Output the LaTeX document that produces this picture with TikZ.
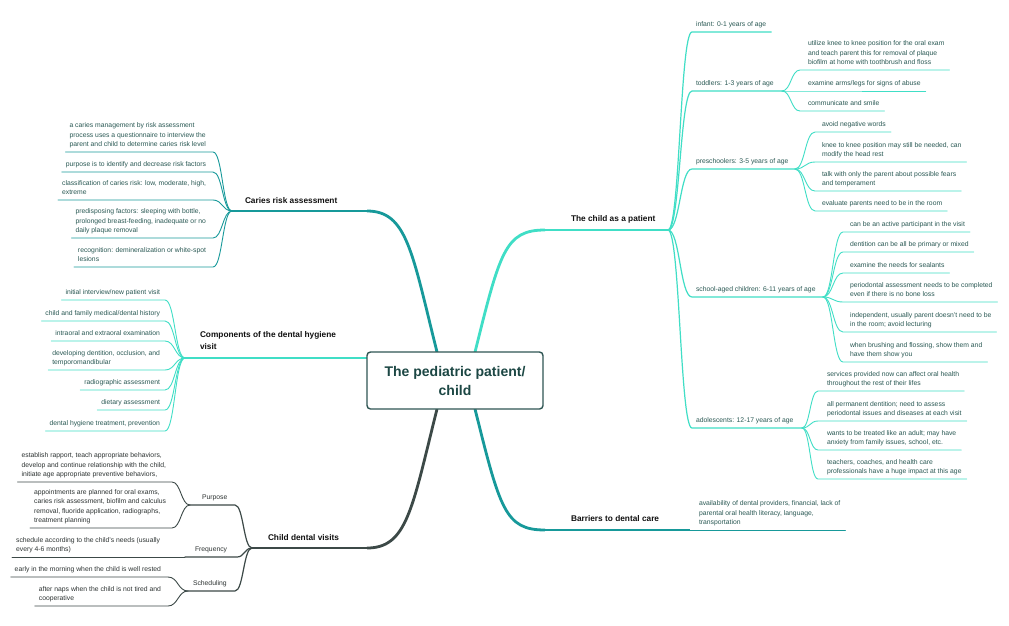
\documentclass[tikz,border=0pt]{standalone}
\usepackage{fontspec}
\setmainfont{Liberation Sans}
\usetikzlibrary{calc}
\definecolor{cyanb}{HTML}{40DEC6}
\definecolor{tealb}{HTML}{17999A}
\definecolor{grayb}{HTML}{3C4947}
\definecolor{boxline}{HTML}{2F5653}
\definecolor{boxtext}{HTML}{1C4744}
\definecolor{leaftxt}{HTML}{2A5954}
\definecolor{vistxt}{HTML}{2E3433}
\definecolor{lbltxt}{HTML}{111111}
\newcommand{\leaffont}{\fontsize{6.8}{9.3}\selectfont}
\newcommand{\lblfont}{\fontsize{8.3}{12}\selectfont\bfseries}
\newcommand{\ctrfont}{\fontsize{14}{19}\selectfont\bfseries}
\newcommand{\lstrut}{\rule[-1.8pt]{0pt}{1.8pt}}
\newcommand{\bstrut}{\rule[-2.2pt]{0pt}{2.2pt}}
% curve from #2 to #3, then straight on to #4
\newcommand{\mmpath}[4]{\draw[#1] let \p1=(#2), \p2=(#3) in (\p1) .. controls ({(\x1+\x2)/2},\y1) and ({(\x1+\x2)/2},\y2) .. (\p2) -- #4;}
% right leaf: [node opts]{line style}{name}{from}{curve end x}{y}{text x}{text}
\newcommand{\rleaf}[8][]{%
  \coordinate (#3s) at (#5,#6);
  \node[leafR,#1] (#3) at (#7,#6-3.7) {#8\lstrut};
  \mmpath{#2}{#4}{#3s}{($(#3.east |- #3s)+(5,0)$) coordinate (#3e)}}
% left leaf: [node opts]{line style}{name}{from}{curve end x}{y}{text right x}{text}
\newcommand{\lleaf}[8][]{%
  \coordinate (#3s) at (#5,#6);
  \node[leafL,#1] (#3) at (#7,#6-3.7) {#8\lstrut};
  \mmpath{#2}{#4}{#3s}{($(#3.west |- #3s)+(-4,0)$) coordinate (#3e)}}
% right middle: {line style}{name}{from}{curve end x}{y}{text x}{junction x}{text}
\newcommand{\rmid}[8]{%
  \coordinate (#2s) at (#4,#5);
  \coordinate (#2j) at (#7,#5);
  \node[leafR] (#2) at (#6,#5-3.7) {#8\lstrut};
  \mmpath{#1}{#3}{#2s}{(#2j)}}
\tikzset{
  leafR/.style={anchor=south west, inner sep=0pt, outer sep=0pt, align=left, font=\leaffont, text=leaftxt},
  leafL/.style={leafR, anchor=south east},
  lbl/.style={anchor=south west, inner sep=0pt, outer sep=0pt, align=left, font=\lblfont, text=lbltxt},
  ctr/.style={draw=boxline, line width=1.4pt, rounded corners=3.5pt, fill=white, minimum width=176pt, minimum height=57pt, align=center, font=\ctrfont, text=boxtext, inner sep=0pt},
  mainc/.style={line width=2.8pt},
  mainh/.style={line width=2pt},
  subl/.style={line width=1.2pt, line cap=round},
  leafl/.style={line width=0.9pt, line cap=round},
}
\begin{document}
\begin{tikzpicture}[x=1pt,y=-1pt]
\useasboundingbox[fill=white] (0,0) rectangle (1009,625);

% ---------- main branches ----------
\coordinate (rootA) at (475,352);
\coordinate (A1) at (545,230);
\coordinate (T) at (668,230);
\draw[mainc,cyanb] (rootA) .. controls +(25,-100) and +(-40,0) .. (A1);
\draw[mainh,cyanb] (A1) -- (T);

\coordinate (rootB) at (475,409);
\coordinate (B1) at (545,530);
\coordinate (BJ) at (690,530);
\draw[mainc,tealb] (rootB) .. controls +(25,100) and +(-40,0) .. (B1);
\draw[mainh,tealb] (B1) -- (BJ);

\coordinate (rootC) at (437,352);
\coordinate (C1) at (367,211);
\coordinate (C) at (232,211);
\draw[mainc,tealb] (rootC) .. controls +(-25,-100) and +(40,0) .. (C1);
\draw[mainh,tealb] (C1) -- (C);

\coordinate (rootV) at (437,409);
\coordinate (V1) at (367,548);
\coordinate (V) at (252,548);
\draw[mainc,grayb] (rootV) .. controls +(-25,100) and +(40,0) .. (V1);
\draw[mainh,grayb] (V1) -- (V);

\coordinate (rootK) at (367,358);
\coordinate (K) at (185,358);
\draw[mainh,cyanb] (rootK) -- (K);

% ---------- branch labels ----------
\node[lbl] (lblA) at (571,221+2.2) {The child as a patient\bstrut};
\node[lbl] (lblB) at (571,521+2.2) {Barriers to dental care\bstrut};
\node[lbl] (lblC) at (245,203+2.2) {Caries risk assessment\bstrut};
\node[lbl] (lblK) at (200,349+2.2) {Components of the dental hygiene\\visit\bstrut};
\node[lbl] (lblV) at (268,540+2.2) {Child dental visits\bstrut};

% ---------- The child as a patient ----------
\rleaf{subl,cyanb}{t1}{T}{692}{32}{696}{infant: 0-1 years of age}
\rmid{subl,cyanb}{t2}{T}{692}{91}{696}{782}{toddlers: 1-3 years of age}
\rmid{subl,cyanb}{t3}{T}{692}{169}{696}{795}{preschoolers: 3-5 years of age}
\rmid{subl,cyanb}{t4}{T}{692}{297}{696}{823}{school-aged children: 6-11 years of age}
\rmid{subl,cyanb}{t5}{T}{692}{428}{696}{802}{adolescents: 12-17 years of age}

\rleaf{leafl,cyanb}{t2a}{t2j}{800}{70}{808}{utilize knee to knee position for the oral exam\\and teach parent this for removal of plaque\\biofilm at home with toothbrush and floss}
\rleaf{leafl,cyanb}{t2b}{t2j}{800}{91}{808}{examine arms/legs for signs of abuse}
\rleaf{leafl,cyanb}{t2c}{t2j}{800}{111}{808}{communicate and smile}

\rleaf{leafl,cyanb}{t3a}{t3j}{815}{132}{822}{avoid negative words}
\rleaf{leafl,cyanb}{t3b}{t3j}{815}{162}{822}{knee to knee position may still be needed, can\\modify the head rest}
\rleaf{leafl,cyanb}{t3c}{t3j}{815}{191}{822}{talk with only the parent about possible fears\\and temperament}
\rleaf{leafl,cyanb}{t3d}{t3j}{815}{211}{822}{evaluate parents need to be in the room}

\rleaf{leafl,cyanb}{t4a}{t4j}{843}{232}{850}{can be an active participant in the visit}
\rleaf{leafl,cyanb}{t4b}{t4j}{843}{252}{850}{dentition can be all be primary or mixed}
\rleaf{leafl,cyanb}{t4c}{t4j}{843}{273}{850}{examine the needs for sealants}
\rleaf{leafl,cyanb}{t4d}{t4j}{843}{302}{850}{periodontal assessment needs to be completed\\even if there is no bone loss}
\rleaf{leafl,cyanb}{t4e}{t4j}{843}{332}{850}{independent, usually parent doesn't need to be\\in the room; avoid lecturing}
\rleaf{leafl,cyanb}{t4f}{t4j}{843}{362}{850}{when brushing and flossing, show them and\\have them show you}

\rleaf{leafl,cyanb}{t5a}{t5j}{818}{391}{827}{services provided now can affect oral health\\throughout the rest of their lifes}
\rleaf{leafl,cyanb}{t5b}{t5j}{818}{421}{827}{all permanent dentition; need to assess\\periodontal issues and diseases at each visit}
\rleaf{leafl,cyanb}{t5c}{t5j}{818}{450}{827}{wants to be treated like an adult; may have\\anxiety from family issues, school, etc.}
\rleaf{leafl,cyanb}{t5d}{t5j}{818}{479}{827}{teachers, coaches, and health care\\professionals have a huge impact at this age}

% ---------- Barriers ----------
\rleaf{leafl,tealb}{b1}{BJ}{690}{530}{699}{availability of dental providers, financial, lack of\\parental oral health literacy, language,\\transportation}

% ---------- Caries risk assessment ----------
\lleaf{leafl,tealb}{c1}{C}{213}{152}{206}{a caries management by risk assessment\\process uses a questionnaire to interview the\\parent and child to determine caries risk level}
\lleaf{leafl,tealb}{c2}{C}{213}{172}{206}{purpose is to identify and decrease risk factors}
\lleaf{leafl,tealb}{c3}{C}{213}{200}{206}{classification of caries risk: low, moderate, high,\\extreme}
\lleaf{leafl,tealb}{c4}{C}{213}{238}{206}{predisposing factors: sleeping with bottle,\\prolonged breast-feeding, inadequate or no\\daily plaque removal}
\lleaf{leafl,tealb}{c5}{C}{213}{267}{206}{recognition: demineralization or white-spot\\lesions}

% ---------- Components ----------
\lleaf{leafl,cyanb}{k1}{K}{165}{300}{160}{initial interview/new patient visit}
\lleaf{leafl,cyanb}{k2}{K}{165}{321}{160}{child and family medical/dental history}
\lleaf{leafl,cyanb}{k3}{K}{165}{341}{160}{intraoral and extraoral examination}
\lleaf{leafl,cyanb}{k4}{K}{165}{370}{160}{developing dentition, occlusion, and\\temporomandibular}
\lleaf{leafl,cyanb}{k5}{K}{165}{390}{160}{radiographic assessment}
\lleaf{leafl,cyanb}{k6}{K}{165}{410}{160}{dietary assessment}
\lleaf{leafl,cyanb}{k7}{K}{165}{431}{160}{dental hygiene treatment, prevention}

% ---------- Child dental visits ----------
\coordinate (vPs) at (235,505);
\coordinate (vP) at (190,505);
\node[leafR,text=vistxt] (purp) at (202,505-3.7) {Purpose\lstrut};
\mmpath{subl,grayb}{V}{vPs}{(vP)}
\coordinate (vFs) at (237,557);
\coordinate (vF) at (185,557);
\node[leafR,text=vistxt] (freq) at (195,557-3.7) {Frequency\lstrut};
\mmpath{subl,grayb}{V}{vFs}{(vF)}
\coordinate (vSs) at (235,591);
\coordinate (vS) at (188,591);
\node[leafR,text=vistxt] (sched) at (193,591-3.7) {Scheduling\lstrut};
\mmpath{subl,grayb}{V}{vSs}{(vS)}

\lleaf[text=vistxt]{leafl,grayb}{v1}{vP}{172}{482}{166}{establish rapport, teach appropriate behaviors,\\develop and continue relationship with the child,\\initiate age appropriate preventive behaviors,}
\lleaf[text=vistxt]{leafl,grayb}{v2}{vP}{172}{528}{166}{appointments are planned for oral exams,\\caries risk assessment, biofilm and calculus\\removal, fluoride application, radiographs,\\treatment planning}
\lleaf[text=vistxt]{leafl,grayb}{v3}{vF}{185}{557}{160}{schedule according to the child's needs (usually\\every 4-6 months)}
\lleaf[text=vistxt]{leafl,grayb}{v4}{vS}{168}{577}{161}{early in the morning when the child is well rested}
\lleaf[text=vistxt]{leafl,grayb}{v5}{vS}{168}{606}{161}{after naps when the child is not tired and\\cooperative}

% ---------- centre ----------
\node[ctr] (center) at (455,380.5) {The pediatric patient/\\child};
\end{tikzpicture}
\end{document}
